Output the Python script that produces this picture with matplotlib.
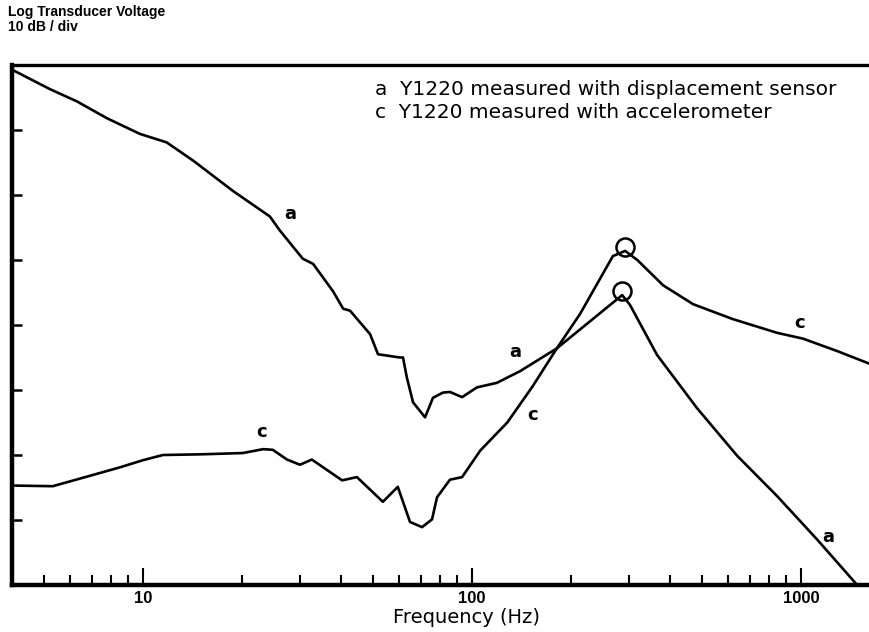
import numpy as np
import matplotlib
matplotlib.use('Agg')
import matplotlib.pyplot as plt
from matplotlib.ticker import LogLocator, NullFormatter, FixedLocator

plt.rcParams['font.family'] = ['Liberation Sans', 'DejaVu Sans']

# curve a: displacement sensor
freq_a = [4.03, 5.21, 6.30, 7.78, 9.79, 11.8, 14.2, 18.8, 24.3, 26.1, 30.6, 32.9,
          37.8, 40.6, 42.6, 49.0, 51.8, 60.4, 61.7, 63.4, 66.2, 72.0, 76.1, 81.6,
          85.7, 93.3, 103.5, 119, 140, 181, 286, 302, 365, 483, 639, 845, 1119, 1481]
db_a = [79.2, 76.3, 74.4, 71.8, 69.4, 68.1, 65.3, 60.6, 56.7, 54.5, 50.2, 49.4,
        45.2, 42.5, 42.2, 38.6, 35.5, 35.0, 35.0, 31.9, 28.1, 25.8, 28.8, 29.6,
        29.7, 28.9, 30.4, 31.1, 32.9, 36.4, 44.6, 43.1, 35.4, 27.2, 19.9, 13.7, 7.0, 0.0]

# curve c: accelerometer
freq_c = [4.03, 5.32, 6.90, 8.51, 10.0, 11.5, 14.9, 20.1, 23.2, 24.8, 27.4, 30.0,
          32.6, 40.3, 44.7, 53.6, 59.5, 64.8, 70.5, 75.6, 78.3, 85.7, 93.3, 106,
          128, 153, 181, 213, 268, 292, 318, 381, 470, 621, 845, 1014, 1286, 1622]
db_c = [15.3, 15.2, 16.8, 18.1, 19.2, 20.0, 20.1, 20.3, 20.9, 20.8, 19.3, 18.5,
        19.3, 16.1, 16.6, 12.8, 15.1, 9.7, 8.9, 10.1, 13.5, 16.2, 16.6, 20.7,
        25.0, 30.6, 36.4, 41.7, 50.6, 51.4, 50.0, 46.1, 43.2, 40.9, 38.8, 37.9, 36.0, 34.0]

# resonance peaks (circled)
peak_freq = [292, 286]
peak_db = [52.0, 45.2]

# curve labels
label_text = ['a', 'a', 'a', 'c', 'c', 'c']
label_freq = [28.0, 135, 1208, 23.0, 153, 993]
label_db = [57.1, 35.8, 7.4, 23.5, 26.1, 40.3]

legend_lines = ['a  Y1220 measured with displacement sensor',
                'c  Y1220 measured with accelerometer']

fig = plt.figure(figsize=(8.7, 6.32), dpi=100)
ax = fig.add_axes([12/870, 47/632, 1 - 12/870, 520/632])

ax.plot(freq_a, db_a, color='black', lw=1.9)
ax.plot(freq_c, db_c, color='black', lw=1.9)
ax.plot(peak_freq, peak_db, 'o', ms=13, mfc='none', mec='black', mew=1.8)

for t, f, d in zip(label_text, label_freq, label_db):
    ax.text(f, d, t, fontsize=13, fontweight='bold', ha='center', va='center',
            family='DejaVu Sans')

ax.set_xscale('log')
ax.set_xlim(4, 1620)
ax.set_ylim(0, 80)

ax.xaxis.set_major_locator(FixedLocator([10, 100, 1000]))
ax.xaxis.set_minor_locator(LogLocator(base=10, subs=[2, 3, 4, 5, 6, 7, 8, 9]))
ax.xaxis.set_minor_formatter(NullFormatter())
ax.set_xticks([10, 100, 1000])
ax.set_xticklabels(['10', '100', '1000'], fontsize=12, fontweight='bold')
ax.tick_params(axis='x', which='major', direction='in', length=12, width=1.5, pad=4)
ax.tick_params(axis='x', which='minor', direction='in', length=7, width=1.5)

ax.set_yticks(np.arange(10, 80, 10))
ax.set_yticklabels([])
ax.tick_params(axis='y', which='major', direction='in', length=7, width=1.8)

for s in ['left', 'bottom']:
    ax.spines[s].set_linewidth(3.2)
ax.spines['top'].set_linewidth(2.4)
ax.spines['right'].set_visible(False)

ax.set_xlabel('Frequency (Hz)', fontsize=14, family='DejaVu Sans')
ax.xaxis.set_label_coords(0.53, -0.045)

ax.text(0.423, 0.952, legend_lines[0], transform=ax.transAxes, fontsize=14.5,
        va='center', family='DejaVu Sans')
ax.text(0.423, 0.908, legend_lines[1], transform=ax.transAxes, fontsize=14.5,
        va='center', family='DejaVu Sans')

fig.text(8/870, 1 - 12/632, 'Log Transducer Voltage', fontsize=10, fontweight='bold', va='center')
fig.text(8/870, 1 - 27/632, '10 dB / div', fontsize=10, fontweight='bold', va='center')

fig.savefig('out.png', dpi=100, facecolor='white')
